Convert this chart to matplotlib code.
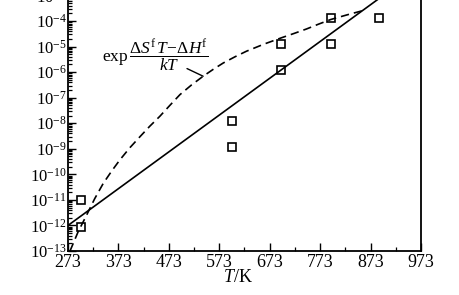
import numpy as np
import matplotlib
matplotlib.use("Agg")
import matplotlib.pyplot as plt
from matplotlib.ticker import LogLocator, NullFormatter, FixedLocator

plt.rcParams['font.family'] = ['Liberation Serif', 'DejaVu Serif']
plt.rcParams['mathtext.fontset'] = 'custom'
plt.rcParams['mathtext.rm'] = 'Liberation Serif'
plt.rcParams['mathtext.it'] = 'Liberation Serif:italic'
plt.rcParams['mathtext.bf'] = 'Liberation Serif:bold'

# ---- data ----
x_ticks = [273, 373, 473, 573, 673, 773, 873, 973]
x_minor = [323, 423, 523, 623, 723, 823, 923]
y_exps = [-13, -12, -11, -10, -9, -8, -7, -6, -5, -4, -3]

point_T = [298, 298, 598, 598, 696, 696, 794, 794, 890]
point_exp = [-11.0, -12.05, -7.9, -8.91, -4.89, -5.9, -4.88, -3.9, -3.9]

line_T = [273, 898]
line_exp = [-12.0, -3.0]

curve_T = [277, 293, 310, 326, 343, 360, 376, 396, 416, 435, 455, 475, 495,
           518, 541, 561, 581, 604, 627, 662, 697, 722, 746, 770, 794, 826, 858]
curve_exp = [-13.0, -12.25, -11.59, -10.95, -10.35, -9.86, -9.43, -8.95, -8.52,
             -8.12, -7.73, -7.3, -6.88, -6.5, -6.16, -5.89, -5.64, -5.4, -5.18,
             -4.9, -4.65, -4.48, -4.31, -4.12, -3.94, -3.76, -3.59]

# ---- figure ----
fig = plt.figure(figsize=(4.6, 2.95), dpi=100)
ax_left, ax_right = 68 / 460, 421 / 460
ax_bottom = 44 / 295
ax_top = (295 + 4.5) / 295
ax = fig.add_axes([ax_left, ax_bottom, ax_right - ax_left, ax_top - ax_bottom])
ax.set_yscale('log')

ax.plot(line_T, 10.0 ** np.array(line_exp), color='black', lw=1.2)
ax.plot(curve_T, 10.0 ** np.array(curve_exp), color='black', lw=1.2,
        dashes=(5.0, 3.0))
ax.plot(point_T, 10.0 ** np.array(point_exp), linestyle='none', marker='s',
        ms=5.2, mfc='none', mec='black', mew=1.2)

ax.set_xlim(273, 973)
ax.set_ylim(1e-13, 1e-3)

ax.xaxis.set_major_locator(FixedLocator(x_ticks))
ax.xaxis.set_minor_locator(FixedLocator(x_minor))
ax.set_xticklabels([str(t) for t in x_ticks])
ax.set_yticks([10.0 ** e for e in y_exps])
ax.set_yticklabels([r'$10^{%d}$' % e for e in y_exps])
ax.yaxis.set_minor_locator(LogLocator(base=10, subs=np.arange(2, 10), numticks=30))
ax.yaxis.set_minor_formatter(NullFormatter())

ax.tick_params(axis='both', which='major', direction='in', width=1.0,
               length=5.5, colors='black')
ax.tick_params(axis='both', which='minor', direction='in', width=0.9,
               length=2.6)
ax.tick_params(axis='x', which='major', labelsize=13, pad=2)
ax.tick_params(axis='y', which='major', labelsize=12, pad=1)
ax.tick_params(right=False, top=False, which='both')

for s in ax.spines.values():
    s.set_linewidth(1.3)

ax.set_xlabel(r'$T$/K', fontsize=13, labelpad=0)
ax.xaxis.set_label_coords((238 - 68) / (421 - 68), -0.07)

ax.text(340, 10 ** -5.35,
        r'$\mathrm{exp}\,\dfrac{\Delta S^{\mathrm{f}}\,T\!-\!\Delta H^{\mathrm{f}}}{kT}$',
        fontsize=12.5, ha='left', va='center')
ax.annotate('', xy=(541, 10 ** -6.16), xytext=(509, 10 ** -5.86),
            arrowprops=dict(arrowstyle='-', lw=1.0, shrinkA=0, shrinkB=0,
                            color='black'))

fig.savefig('out.png', dpi=100)
